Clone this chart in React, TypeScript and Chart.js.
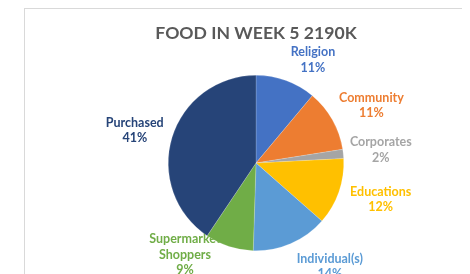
import React, { useEffect, useRef } from "react";
import { Chart, registerables } from "chart.js";

Chart.register(...registerables);

const TITLE = "FOOD IN WEEK 5 2190K";
const categories = ["Religion", "Community", "Corporates", "Educations", "Individual(s)", "Supermarket Shoppers", "Purchased"];
const labelLines = [["Religion"], ["Community"], ["Corporates"], ["Educations"], ["Individual(s)"], ["Supermarket", "Shoppers"], ["Purchased"]];
// food amounts in K (total 2190K)
const values = [243, 250, 37, 269, 307, 195, 889];
const colors = ["#4472C4", "#ED7D31", "#A5A5A5", "#FFC000", "#5B9BD5", "#70AD47", "#264478"];
// best-fit label placement: angle shift (deg) from slice mid-angle, distance as fraction of radius
const labelAngleShift = [9, 3, 0, -3, -12, 20, -2];
const labelDist = [1.34, 1.47, 1.43, 1.48, 1.45, 1.32, 1.43];

const FONT = "Lato, 'Open Sans', sans-serif";

const titlePlugin = {
  id: "excelTitle",
  afterDraw(chart: any) {
    const ctx = chart.ctx;
    const a = chart.chartArea;
    ctx.save();
    ctx.font = `bold 17.6px ${FONT}`;
    ctx.fillStyle = "#595959";
    ctx.textAlign = "center";
    ctx.textBaseline = "alphabetic";
    ctx.fillText(TITLE, (a.left + a.right) / 2, a.top - 36);
    ctx.restore();
  },
};

const labelPlugin = {
  id: "excelLabels",
  beforeDatasetsDraw(chart: any) {
    const ctx = chart.ctx;
    const meta = chart.getDatasetMeta(0);
    const total = values.reduce((a, b) => a + b, 0);
    ctx.save();
    ctx.font = `bold 12.5px ${FONT}`;
    ctx.textAlign = "center";
    ctx.textBaseline = "middle";
    meta.data.forEach((arc: any, i: number) => {
      const p = arc.getProps(["x", "y", "startAngle", "endAngle", "outerRadius"], true);
      const mid = (p.startAngle + p.endAngle) / 2 + (labelAngleShift[i] * Math.PI) / 180;
      const d = p.outerRadius * labelDist[i];
      const cx = p.x + Math.cos(mid) * d;
      const cy = p.y + Math.sin(mid) * d;
      const lines = [...labelLines[i], `${Math.round((values[i] / total) * 100)}%`];
      const lh = 15.5;
      const top = cy - ((lines.length - 1) * lh) / 2;
      ctx.fillStyle = colors[i];
      lines.forEach((t, k) => ctx.fillText(t, cx, top + k * lh));
    });
    ctx.restore();
  },
};

export default function App() {
  const ref = useRef<HTMLCanvasElement>(null);
  useEffect(() => {
    if (!ref.current) return;
    const chart = new Chart(ref.current, {
      type: "pie",
      data: {
        labels: categories,
        datasets: [
          {
            data: values,
            backgroundColor: colors,
            borderColor: "rgba(255,255,255,0.35)",
            borderWidth: 0.5,
          },
        ],
      },
      options: {
        responsive: false,
        animation: false,
        layout: { padding: { top: 67, bottom: 23, left: 160, right: 126 } },
        plugins: {
          legend: { display: false },
          tooltip: { enabled: false },
          title: { display: false },
        },
      },
      plugins: [labelPlugin, titlePlugin],
    });
    return () => chart.destroy();
  }, []);
  return (
    <div style={{ position: "relative", width: 462, height: 266, overflow: "hidden", background: "#fff" }}>
      <div
        style={{
          position: "absolute",
          left: 16,
          top: 0,
          width: 500,
          height: 320,
          border: "1.5px solid #D9D9D9",
          boxSizing: "border-box",
        }}
      />
      <canvas ref={ref} width={462} height={266} style={{ position: "absolute", left: 0, top: 0 }} />
    </div>
  );
}
